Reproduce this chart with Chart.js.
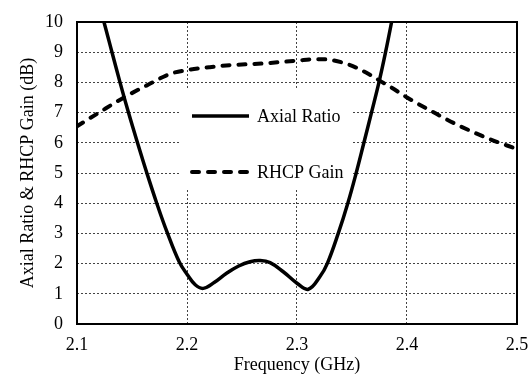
<!DOCTYPE html>
<html>
<head>
<meta charset="utf-8">
<script src="https://cdn.jsdelivr.net/npm/chart.js@4"></script>
<style>
  html, body { margin: 0; padding: 0; background: #fff; }
  #wrap { width: 528px; height: 376px; }
</style>
</head>
<body>
<div id="wrap"><canvas id="grafico" width="528" height="376"></canvas></div>
<script>
    // Dados
    const frequenciasAR = [2.1205, 2.1245, 2.1318, 2.1391, 2.1468, 2.155, 2.1635, 2.1725, 2.1818, 2.193, 2.2, 2.2075, 2.2148, 2.225, 2.236, 2.247, 2.2573, 2.2665, 2.2755, 2.2875, 2.3, 2.3103, 2.3209, 2.3275, 2.3375, 2.3462, 2.3538, 2.3608, 2.3677, 2.3745, 2.3805, 2.386, 2.3875];
    const valoresAR = [10.5, 10, 9, 8, 7, 6, 5, 4, 3.05, 2.05, 1.65, 1.3, 1.18, 1.38, 1.68, 1.92, 2.06, 2.1, 2.03, 1.73, 1.35, 1.15, 1.57, 2, 3, 4, 5, 6, 7, 8, 9, 10, 10.3];

    const frequenciasGanho = [2.1, 2.12, 2.1436, 2.165, 2.1845, 2.2, 2.22, 2.239, 2.27, 2.3, 2.318, 2.33, 2.342, 2.355, 2.3664, 2.3755, 2.3845, 2.4, 2.4236, 2.4455, 2.4727, 2.5];
    const valoresGanho = [6.55, 7.0, 7.52, 7.93, 8.28, 8.41, 8.5, 8.57, 8.63, 8.72, 8.77, 8.75, 8.65, 8.47, 8.25, 8.05, 7.86, 7.5, 7.02, 6.6, 6.16, 5.79];

    const rotulosX = ['2.1', '2.2', '2.3', '2.4', '2.5'];
    const rotulosY = ['0', '1', '2', '3', '4', '5', '6', '7', '8', '9', '10'];

    const fonte = { family: "'Liberation Serif', 'Times New Roman', serif", size: 18 };

    // Juntar x e y em pontos
    const pontos = (xs, ys) => xs.map((x, i) => ({ x: x, y: ys[i] }));

    // Legenda desenhada dentro da área do gráfico (com fundo branco)
    const legendaInterna = {
        id: 'legendaInterna',
        beforeDatasetsDraw(chart) {
            const ctx = chart.ctx;
            ctx.save();
            ctx.fillStyle = '#fff';
            ctx.fillRect(181, 89, 171, 100);
            chart.data.datasets.forEach((ds, i) => {
                const y = 116 + i * 56;
                ctx.beginPath();
                ctx.lineWidth = ds.borderWidth;
                ctx.strokeStyle = ds.borderColor;
                ctx.lineCap = ds.borderCapStyle || 'butt';
                ctx.setLineDash(ds.borderDash || []);
                ctx.moveTo(192, y);
                ctx.lineTo(249, y);
                ctx.stroke();
                ctx.setLineDash([]);
                ctx.fillStyle = '#000';
                ctx.font = fonte.size + 'px ' + fonte.family;
                ctx.textBaseline = 'middle';
                ctx.fillText(ds.label, 257, y + 1);
            });
            ctx.restore();
        },
        afterDatasetsDraw(chart) {
            // moldura em volta da área do gráfico
            const a = chart.chartArea;
            const ctx = chart.ctx;
            ctx.save();
            ctx.strokeStyle = '#000';
            ctx.lineWidth = 2;
            ctx.strokeRect(a.left, a.top, a.right - a.left, a.bottom - a.top);
            ctx.restore();
        }
    };

    function createGraph() {
        const ctx = document.getElementById('grafico').getContext('2d');

        new Chart(ctx, {
            type: 'line',
            data: {
                datasets: [{
                    label: 'Axial Ratio',
                    data: pontos(frequenciasAR, valoresAR),
                    borderColor: '#000',
                    borderWidth: 3.5,
                    pointRadius: 0,
                    tension: 0.4,
                    clip: 0
                }, {
                    label: 'RHCP Gain',
                    data: pontos(frequenciasGanho, valoresGanho),
                    borderColor: '#000',
                    borderWidth: 4,
                    borderDash: [7, 9],
                    borderCapStyle: 'round',
                    pointRadius: 0,
                    cubicInterpolationMode: 'monotone',
                    clip: 0
                }]
            },
            options: {
                responsive: false,
                animation: false,
                layout: { padding: { top: 22, right: 11, left: 0, bottom: 0 } },
                plugins: {
                    legend: { display: false },
                    tooltip: { enabled: false }
                },
                scales: {
                    x: {
                        type: 'linear',
                        min: 2.1,
                        max: 2.5,
                        afterFit: (s) => { s.height = 52; s.paddingLeft = 0; s.paddingRight = 0; },
                        ticks: {
                            stepSize: 0.1,
                            padding: 10,
                            color: '#000',
                            font: fonte,
                            maxRotation: 0,
                            callback: (v) => rotulosX[Math.round((v - 2.1) * 10)]
                        },
                        grid: { color: '#444', lineWidth: 1, drawTicks: false },
                        border: { display: false, dash: [2, 2] },
                        title: {
                            display: true,
                            text: 'Frequency (GHz)',
                            color: '#000',
                            font: fonte,
                            padding: { top: 0, bottom: 0 }
                        }
                    },
                    y: {
                        min: 0,
                        max: 10,
                        afterFit: (s) => { s.width = 77; s.paddingTop = 0; s.paddingBottom = 0; },
                        ticks: {
                            stepSize: 1,
                            padding: 14,
                            color: '#000',
                            font: fonte,
                            callback: (v) => rotulosY[Math.round(v)]
                        },
                        grid: { color: '#444', lineWidth: 1, drawTicks: false },
                        border: { display: false, dash: [2, 2] },
                        title: {
                            display: true,
                            text: 'Axial Ratio & RHCP Gain (dB)',
                            color: '#000',
                            font: fonte,
                            padding: { top: 17, bottom: 0 }
                        }
                    }
                }
            },
            plugins: [legendaInterna]
        });
    }

    createGraph();
</script>
</body>
</html>
